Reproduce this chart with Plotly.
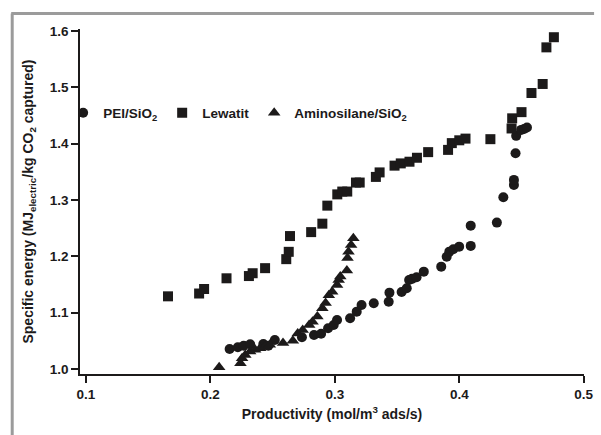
import plotly.graph_objects as go

# PEI/SiO2 sorbent: productivity (mol/m3 ads/s) vs specific electric energy (MJ/kg CO2)
pei_x = [0.2155, 0.2221, 0.2268, 0.2320, 0.2426, 0.2466, 0.2518, 0.2736, 0.2833, 0.2890,
         0.2946, 0.2991, 0.3018, 0.3123, 0.3176, 0.3215, 0.3313, 0.3433, 0.3439, 0.3537,
         0.3578, 0.3597, 0.3620, 0.3657, 0.3715, 0.3855, 0.3899, 0.3920, 0.3952, 0.3999,
         0.4092, 0.4092, 0.4302, 0.4354, 0.4439, 0.4439, 0.4452, 0.4457, 0.4497, 0.4520,
         0.4544]
pei_y = [1.0355, 1.0385, 1.0414, 1.0439, 1.0444, 1.0414, 1.0515, 1.0563, 1.0604, 1.0625,
         1.0723, 1.0782, 1.0870, 1.0900, 1.1018, 1.1137, 1.1167, 1.1195, 1.1355, 1.1368,
         1.1433, 1.1580, 1.1600, 1.1629, 1.1728, 1.1817, 1.1994, 1.2083, 1.2126, 1.2172,
         1.2185, 1.2545, 1.2599, 1.3048, 1.3268, 1.3357, 1.3831, 1.4139, 1.4245, 1.4260,
         1.4286]

# Lewatit sorbent
lew_x = [0.166, 0.191, 0.195, 0.213, 0.231, 0.234, 0.244, 0.261, 0.263, 0.264,
         0.281, 0.290, 0.294, 0.302, 0.306, 0.310, 0.317, 0.320, 0.333, 0.336,
         0.348, 0.353, 0.360, 0.366, 0.375, 0.391, 0.394, 0.400, 0.405, 0.425,
         0.442, 0.4425, 0.450, 0.458, 0.467, 0.470, 0.476]
lew_y = [1.129, 1.134, 1.142, 1.161, 1.165, 1.170, 1.179, 1.195, 1.208, 1.236,
         1.243, 1.258, 1.290, 1.310, 1.315, 1.315, 1.331, 1.331, 1.341, 1.349,
         1.361, 1.365, 1.368, 1.375, 1.385, 1.389, 1.401, 1.406, 1.409, 1.408,
         1.427, 1.445, 1.456, 1.490, 1.506, 1.571, 1.589]

# Aminosilane/SiO2 sorbent
ami_x = [0.2071, 0.2242, 0.2255, 0.2281, 0.2320, 0.2360, 0.2400, 0.2439, 0.2478, 0.2584,
         0.2663, 0.2702, 0.2742, 0.2794, 0.2821, 0.2860, 0.2900, 0.2926, 0.2952, 0.2979,
         0.3018, 0.3031, 0.3044, 0.3097, 0.3102, 0.3110, 0.3131, 0.3149]
ami_y = [1.003, 1.010, 1.019, 1.025, 1.031, 1.034, 1.037, 1.040, 1.043, 1.046,
         1.050, 1.063, 1.069, 1.078, 1.084, 1.093, 1.108, 1.117, 1.131, 1.137,
         1.149, 1.158, 1.164, 1.175, 1.197, 1.208, 1.220, 1.232]

x_ticks = [0.1, 0.2, 0.3, 0.4, 0.5]
x_tick_text = ["0.1", "0.2", "0.3", "0.4", "0.5"]
y_ticks = [1.0, 1.1, 1.2, 1.3, 1.4, 1.5, 1.6]
y_tick_text = ["1.0", "1.1", "1.2", "1.3", "1.4", "1.5", "1.6"]

INK = "#1c1a1a"
FONT = "Liberation Sans, Arial, sans-serif"

fig = go.Figure()
fig.add_trace(go.Scatter(x=pei_x, y=pei_y, mode="markers", name="PEI/SiO<sub>2</sub>",
                         marker=dict(symbol="circle", size=10, color=INK)))
fig.add_trace(go.Scatter(x=lew_x, y=lew_y, mode="markers", name="Lewatit",
                         marker=dict(symbol="square", size=10, color=INK)))
fig.add_trace(go.Scatter(x=ami_x, y=ami_y, mode="markers", name="Aminosilane/SiO<sub>2</sub>",
                         marker=dict(symbol="triangle-up", size=11, color=INK)))

axis_common = dict(showgrid=False, zeroline=False, showline=True, linecolor=INK, linewidth=1.5,
                   ticks="outside", ticklen=7, tickwidth=1.5, tickcolor=INK,
                   ticklabeloverflow="allow",
                   tickfont=dict(family=FONT, size=13.5, color=INK, weight="bold"))

fig.update_layout(
    width=601, height=435,
    margin=dict(l=80, r=7, t=29, b=61),
    paper_bgcolor="white", plot_bgcolor="white",
    font=dict(family=FONT, color=INK),
    xaxis=dict(range=[0.0953, 0.5002], tickvals=x_ticks, ticktext=x_tick_text,
               title=dict(text="Productivity (mol/m<sup>3</sup> ads/s)", standoff=8,
                          font=dict(family=FONT, size=14, color=INK, weight="bold")),
               **axis_common),
    yaxis=dict(range=[0.9911, 1.6036], tickvals=y_ticks, ticktext=y_tick_text,
               title=dict(text="Specific energy (MJ<sub>electric</sub>/kg CO<sub>2</sub> captured)",
                          standoff=13,
                          font=dict(family=FONT, size=14, color=INK, weight="bold")),
               **axis_common),
    legend=dict(orientation="h", x=0.659, y=0.7565, xanchor="right", yanchor="middle",
                bgcolor="rgba(0,0,0,0)", font=dict(family=FONT, size=13.5, color=INK, weight="bold"),
                itemwidth=30, tracegroupgap=0),
    showlegend=True,
    shapes=[
        # grey frame along the top and left edges of the figure
        dict(type="line", xref="paper", yref="paper", x0=-0.1365, x1=1.02, y0=1.0449, y1=1.0449,
             line=dict(color="#9b9b9b", width=3)),
        dict(type="line", xref="paper", yref="paper", x0=-0.1345, x1=-0.1345, y0=1.0449, y1=-0.19,
             line=dict(color="#9b9b9b", width=3)),
    ],
)

fig.write_html("out.html")
